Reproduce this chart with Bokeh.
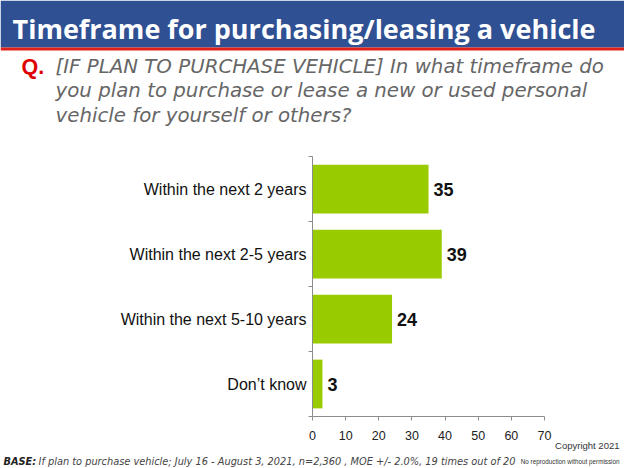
from bokeh.plotting import figure
from bokeh.models import (ColumnDataSource, LabelSet, Label, BoxAnnotation,
                          FixedTicker, Range1d, LinearAxis)
from bokeh.core.properties import value
from bokeh.embed import file_html
from bokeh.resources import INLINE

categories = ["Within the next 2 years", "Within the next 2-5 years",
              "Within the next 5-10 years", "Don\u2019t know"]
values = [35, 39, 24, 3]
x_ticks = [0, 10, 20, 30, 40, 50, 60, 70]

title_text = "Timeframe for purchasing/leasing a vehicle"
question_lines = ["[IF PLAN TO PURCHASE VEHICLE] In what timeframe do",
                  "you plan to purchase or lease a new or used personal",
                  "vehicle for yourself or others?"]
base_label = "BASE:"
base_text = "If plan to purchase vehicle; July 16 - August 3, 2021, n=2,360 , MOE +/- 2.0%, 19 times out of 20"

W, H = 624, 468
# chart area in canvas pixels
CL, CR, CT, CB = 312, 544, 156, 416
XMAX = 70
n = len(categories)

kx = (CR - CL) / XMAX
ky = (CB - CT) / n
x_range = Range1d(-CL / kx, XMAX + (W - CR) / kx)
y_range = Range1d(-(H - CB) / ky, n + CT / ky)

ypos = [n - i - 0.5 for i in range(n)]
src = ColumnDataSource(dict(cat=categories, val=values, y=ypos,
                            lab=[str(v) for v in values]))

p = figure(width=W, height=H, output_backend="svg", toolbar_location=None,
           x_range=x_range, y_range=y_range, x_axis_type=None, y_axis_type=None,
           min_border=0)
p.outline_line_color = None
p.grid.visible = False
p.background_fill_color = "white"
p.border_fill_color = "white"

p.hbar(y="y", right="val", left=0, height=0.75, source=src,
       fill_color="#99CC00", line_color=None)

ax = LinearAxis(fixed_location=0, bounds=(0, XMAX), ticker=FixedTicker(ticks=x_ticks))
ax.axis_line_color = "#8c8c8c"
ax.major_tick_line_color = "#8c8c8c"
ax.major_tick_out = 4
ax.major_tick_in = 0
ax.minor_tick_line_color = None
ax.major_label_text_font = "Liberation Sans"
ax.major_label_text_font_size = "12.5px"
ax.major_label_text_color = "#222222"
ax.major_label_standoff = 10
p.add_layout(ax, "below")

ay = LinearAxis(fixed_location=0, bounds=(0, n),
                ticker=FixedTicker(ticks=ypos, minor_ticks=list(range(n + 1))))
ay.major_label_overrides = {float(y): c for y, c in zip(ypos, categories)}
ay.axis_line_color = "#8c8c8c"
ay.major_tick_line_color = None
ay.major_tick_out = 0
ay.major_tick_in = 0
ay.minor_tick_line_color = "#8c8c8c"
ay.minor_tick_out = 4
ay.minor_tick_in = 0
ay.major_label_text_font = "Liberation Sans"
ay.major_label_text_font_size = "16px"
ay.major_label_text_color = "#111111"
ay.major_label_standoff = 2
p.add_layout(ay, "left")

p.add_layout(LabelSet(x="val", y="y", text="lab", source=src, x_offset=5,
                      text_baseline="middle", text_font=value("Liberation Sans"),
                      text_font_style="bold", text_font_size="18px",
                      text_color="#111111"))


def lab(cx, cy, text, size, **kw):
    # cy is the wanted baseline in canvas pixels (from the top)
    p.add_layout(Label(x=cx, y=H - cy + 0.27 * size, x_units="screen", y_units="screen",
                       text=text, text_font_size=f"{size}px",
                       text_baseline="alphabetic", **kw))


def band(top, bottom, color):
    p.add_layout(BoxAnnotation(left=0, right=W, top=H - top, bottom=H - bottom,
                               left_units="screen", right_units="screen",
                               top_units="screen", bottom_units="screen",
                               fill_color=color, fill_alpha=1, line_color=None,
                               level="underlay"))


band(0, 47, "#2F5092")
band(47, 50, "#E0201B")
lab(12, 35, title_text, 27, text_font="Open Sans", text_font_style="bold",
    text_color="white")
lab(21, 72, "Q.", 21.5, text_font="Liberation Sans", text_font_style="bold",
    text_color="#E00000")
for i, line in enumerate(question_lines):
    lab(55, 71 + 24.5 * i, line, 19.8, text_font="DejaVu Sans", text_font_style="italic",
        text_color="#666666")

lab(3, 464, base_label, 9.8, text_font="DejaVu Sans", text_font_style="bold italic",
    text_color="#222222")
lab(38, 464, base_text, 9.8, text_font="DejaVu Sans", text_font_style="italic",
    text_color="#444444")
lab(619, 448, "Copyright 2021", 9.5, text_font="Liberation Sans",
    text_color="#333333", text_align="right")
lab(619, 463, "No reproduction without permission", 6.3, text_font="Liberation Sans",
    text_color="#333333", text_align="right")

open("out.html", "w").write(file_html(p, INLINE))
